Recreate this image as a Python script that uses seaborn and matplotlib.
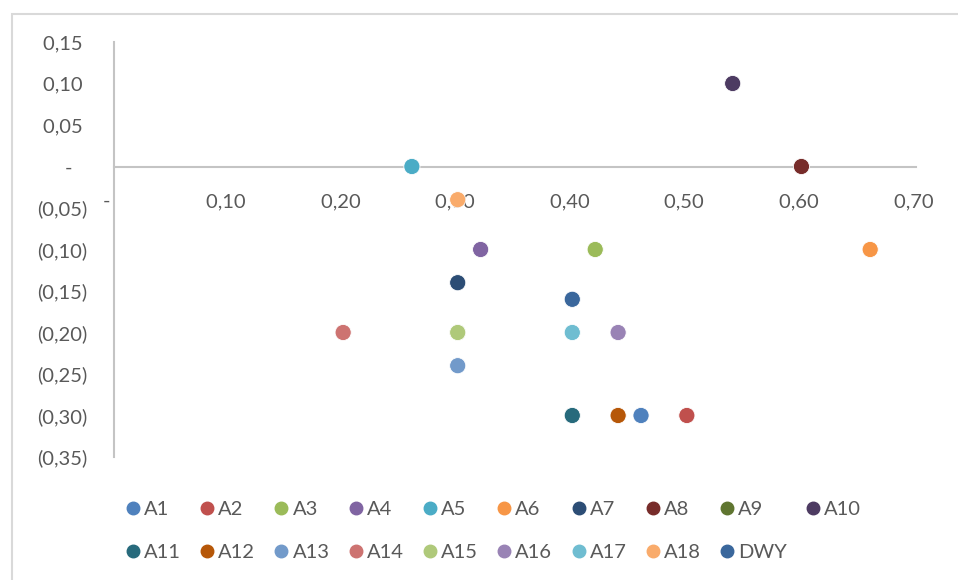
import pandas as pd
import matplotlib
matplotlib.use("Agg")
import matplotlib.pyplot as plt
import seaborn as sns
from matplotlib.lines import Line2D
from matplotlib.patches import Rectangle

# ----------------------------
# Data
# ----------------------------
names = ["A1", "A2", "A3", "A4", "A5", "A6", "A7", "A8", "A9", "A10",
         "A11", "A12", "A13", "A14", "A15", "A16", "A17", "A18", "DWY"]
x_vals = [0.46, 0.50, 0.42, 0.32, 0.26, 0.66, 0.30, 0.60, 0.30, 0.54,
          0.40, 0.44, 0.30, 0.20, 0.30, 0.44, 0.40, 0.30, 0.40]
y_vals = [-0.30, -0.30, -0.10, -0.10, 0.00, -0.10, -0.14, 0.00, -0.20, 0.10,
          -0.30, -0.30, -0.24, -0.20, -0.20, -0.20, -0.20, -0.04, -0.16]
colors = ["#4F81BD", "#C0504D", "#9BBB59", "#8064A2", "#4BACC6", "#F79646",
          "#2C4D75", "#772C2A", "#5F7530", "#4D3B62", "#276A7C", "#B65708",
          "#729ACA", "#CD7371", "#AFC97A", "#9983B5", "#6FBDD1", "#F9AB6B",
          "#3A679C"]
x_ticks = [0.0, 0.10, 0.20, 0.30, 0.40, 0.50, 0.60, 0.70]
y_ticks = [0.15, 0.10, 0.05, 0.0, -0.05, -0.10, -0.15, -0.20, -0.25, -0.30, -0.35]

df = pd.DataFrame({"name": names, "x": x_vals, "y": y_vals})
palette = dict(zip(names, colors))

sns.set_style("white")
plt.rcParams["font.family"] = ["Lato", "DejaVu Sans"]
text_col = "#595959"
axis_col = "#C4C4C4"


def fmt(v, trail):
    if abs(v) < 1e-9:
        return "-" + trail
    s = f"{abs(v):.2f}".replace(".", ",")
    return f"({s})" if v < 0 else s + " "


fig = plt.figure(figsize=(9.58, 5.80), dpi=100)
ax = fig.add_axes([114 / 958, 1 - 457 / 580, (916 - 114) / 958, (457 - 42) / 580])

sns.scatterplot(data=df, x="x", y="y", hue="name", palette=palette,
                s=135, edgecolor="white", linewidth=0.6, legend=False, ax=ax, zorder=3)

ax.set_xlim(0, 0.70)
ax.set_ylim(-0.35, 0.15)
ax.set_xlabel("")
ax.set_ylabel("")

# axes cross at the origin, like Excel
for side in ["top", "right"]:
    ax.spines[side].set_visible(False)
ax.spines["left"].set_position(("data", 0))
ax.spines["bottom"].set_position(("data", 0))
for side in ["left", "bottom"]:
    ax.spines[side].set_color(axis_col)
    ax.spines[side].set_linewidth(1.5)
    ax.spines[side].set_zorder(1)

ax.set_xticks(x_ticks)
ax.set_xticklabels([fmt(v, "   ") for v in x_ticks])
ax.set_yticks(y_ticks)
ax.set_yticklabels([fmt(v, "   ") for v in y_ticks])
ax.tick_params(axis="both", length=0, labelsize=14.5, colors=text_col)
ax.tick_params(axis="x", pad=19)
ax.tick_params(axis="y", pad=19)

# legend: row-major order (A1..A10 on first row, A11..DWY on second)
handles = [Line2D([], [], marker="o", linestyle="", markersize=9,
                  markerfacecolor=c, markeredgecolor=c) for c in colors]
order = []
for i in range(10):
    order.append(i)
    if i + 10 < len(names):
        order.append(i + 10)
fig.legend([handles[i] for i in order], [names[i] for i in order],
           loc="center", bbox_to_anchor=(493 / 958, 1 - 531 / 580), ncol=10,
           frameon=False, fontsize=14.5, labelcolor=text_col, handlelength=0.8,
           handletextpad=0.15, columnspacing=0.9, labelspacing=1.3)

# chart area border (cropped on the right and bottom)
fig.patches.append(Rectangle((12 / 958, -0.05), 1.1, 1 - 14 / 580 + 0.05,
                             transform=fig.transFigure, fill=False,
                             edgecolor="#D9D9D9", linewidth=1.5))

fig.savefig("out.png", dpi=100)
